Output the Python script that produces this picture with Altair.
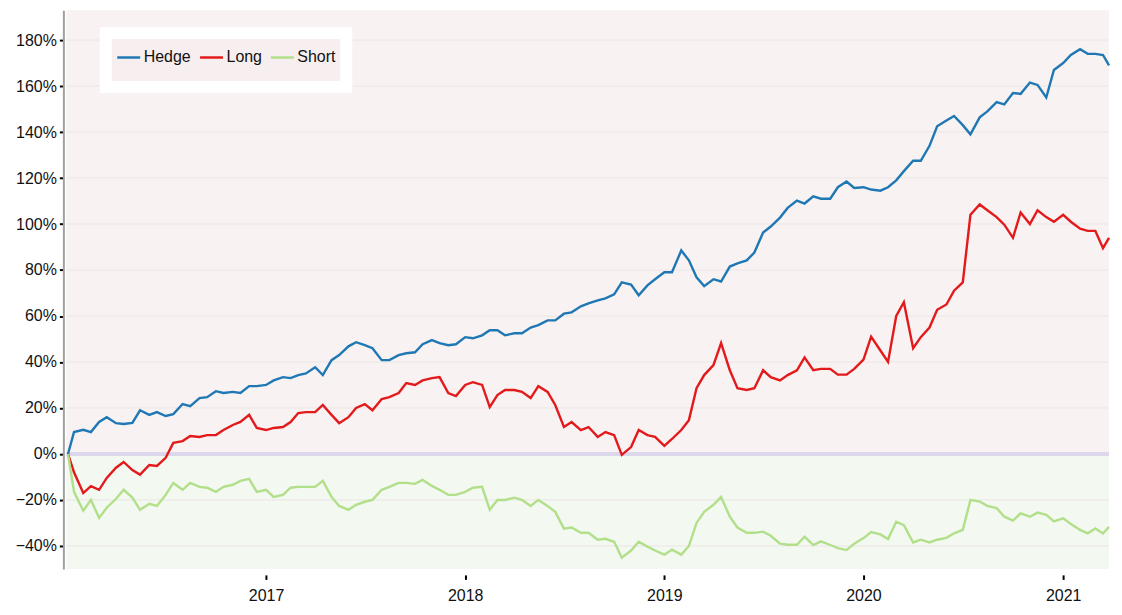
import altair as alt
import pandas as pd

# ---- data (percent cumulative returns), semi-monthly samples ----
dates = (["2016-01-04"]
         + [d.strftime("%Y-%m-%d") for d in pd.date_range("2016-01-15", "2021-03-15", freq="SMS")]
         + ["2021-03-26"])

hedge = (
    [0, 9.5, 10.5, 9.5, 13.9, 16, 13.4, 13, 13.5, 19, 17, 18.2, 16.5, 17.3, 21.7, 20.8, 24.3, 24.7, 27.3, 26.5, 27, 26.5, 29.5, 29.5]
    + [30, 32, 33.4, 33, 34.3, 35, 37.7, 34.3, 40.8, 43, 46.8, 48.6, 47.3, 46, 40.8, 40.8, 43, 43.8, 44.2, 47.7, 49.5, 48.2, 47.3, 47.7]
    + [50.8, 50.3, 51.6, 53.8, 53.8, 51.6, 52.5, 52.5, 55, 56, 58.1, 58.1, 61, 61.6, 64.2, 65.5, 66.8, 67.7, 69.4, 74.6, 73.7, 69, 73.3, 76]
    + [79, 79, 88.5, 84.2, 76.8, 73, 76, 75, 81.5, 82.9, 84.2, 87.6, 96.3, 98.9, 102.8, 107, 110.2, 108.9, 112, 111, 111, 116, 118.5, 115.7]
    + [116, 115, 114.5, 116, 119, 123, 127.5, 127.5, 134, 142.5, 145, 147, 143, 139, 146.4, 149, 153, 152, 157, 156.6, 161.5, 160.5, 155, 167]
    + [170, 173.5, 176, 174, 174, 173.5, 169]
)
long_ = (
    [0, -8, -17, -14, -15.6, -10.4, -6, -3.5, -7, -9, -4.8, -5.2, -1.7, 4.8, 5.6, 7.8, 7.4, 8.2, 8.2, 10.4, 12.6, 13.9, 17, 11.3]
    + [10.4, 11.3, 11.7, 13.9, 17.8, 18.2, 18.2, 21.3, 17, 13.4, 16, 20, 21.7, 19, 23.9, 24.7, 26.5, 30.8, 30, 32, 33, 33.4, 26.5, 25.2]
    + [30, 31.2, 30, 20.4, 25.6, 27.8, 27.8, 27, 24.3, 29.5, 27, 21.3, 11.7, 13.9, 10.4, 11.7, 7.4, 9.5, 8.2, -0.4, 3, 10.4, 8.2, 7.4]
    + [3.5, 6.5, 10.4, 14.7, 28.6, 34.3, 38.6, 48.2, 36.4, 28.6, 27.8, 28.6, 36.4, 33.4, 32, 34.3, 36.4, 42, 36.4, 37, 37, 34.5, 34.5, 37]
    + [41, 51, 45, 40, 60, 66, 46, 50.8, 55, 62.7, 65, 71, 74.6, 104, 108.5, 106, 103, 99.7, 94, 105, 100, 106, 103, 101]
    + [104, 101, 98, 97, 97, 89.5, 94]
)
short = (
    [0, -16.5, -24.7, -20, -27.8, -23.4, -19.5, -15.6, -19, -24.3, -21.7, -22.6, -17.8, -12.6, -15.6, -12.6, -14.3, -14.7, -16.5, -14.3, -13.4, -11.7, -10.8, -16.5]
    + [-15.6, -18.7, -17.8, -14.7, -14.3, -14.3, -14.3, -11.7, -18.7, -22.6, -24.3, -22.1, -20.8, -20, -15.6, -14.3, -12.6, -12.6, -13, -11.3, -13.9, -15.6, -17.8, -17.8]
    + [-16.5, -14.7, -14.3, -24.3, -20, -20, -19, -20, -22.6, -20, -22.6, -25.2, -32.5, -32, -34.3, -34.3, -37.3, -36.9, -38.2, -45.1, -42, -38.2, -40.3, -42]
    + [-43.8, -41.6, -43.8, -40, -30, -25.2, -22.1, -18.7, -27.3, -32, -34.3, -34.3, -33.8, -35.6, -39, -39.5, -39.5, -36, -39.6, -38, -39.6, -41, -41.8, -39]
    + [-36.6, -34, -35, -37, -29.5, -31, -38.5, -37.3, -38.5, -37.3, -36.5, -34.5, -33, -20, -20.7, -22.6, -23.5, -27.3, -29, -25.8, -27.3, -25.5, -26.5, -29.3]
    + [-28, -30.5, -33, -34.5, -32.4, -34.6, -31.7]
)

series_names = ["Hedge", "Long", "Short"]
series_colors = ["#1f78b4", "#e31a1c", "#b2df8a"]
y_ticks = [-40, -20, 0, 20, 40, 60, 80, 100, 120, 140, 160, 180]
year_ticks = [2017, 2018, 2019, 2020, 2021]
y_domain = [-50, 193]

rows = []
for name, vals in zip(series_names, [hedge, long_, short]):
    for d, v in zip(dates, vals):
        rows.append({"date": d + "T00:00:00", "series": name, "value": v})
df = pd.DataFrame(rows)

bands = pd.DataFrame({"lo": [0, y_domain[0]], "hi": [y_domain[1], 0], "zone": ["pos", "neg"]})
grid_df = pd.DataFrame({"t": y_ticks})

FONT = "Liberation Sans, Arial"
FS = 16
yscale = alt.Scale(domain=y_domain, nice=False, zero=False)
xscale = alt.Scale(domain=[alt.DateTime(year=2016, month=1, date=1),
                           alt.DateTime(year=2021, month=3, date=26)], nice=False)

yaxis = alt.Axis(values=y_ticks, labelExpr="format(datum.value, 'd') + '%'",
                 domain=True, domainColor="#a0a0a0", domainWidth=2,
                 ticks=True, tickColor="#000000", tickWidth=2, tickSize=4,
                 offset=3, labelPadding=3, grid=False, title=None,
                 labelFontSize=FS, labelColor="#111111", labelFont=FONT)
xaxis = alt.Axis(values=[alt.DateTime(year=y, month=1, date=1) for y in year_ticks],
                 format="%Y", domain=False, ticks=True, tickColor="#000000",
                 tickWidth=2, tickSize=4.5, offset=6, labelPadding=8, grid=False,
                 title=None, labelFontSize=FS, labelColor="#111111", labelFont=FONT)

band_pos = alt.Chart(bands[bands.zone == "pos"]).mark_rect(color="#f9f2f2").encode(
    y=alt.Y("lo:Q", scale=yscale, axis=yaxis), y2="hi:Q")
band_neg = alt.Chart(bands[bands.zone == "neg"]).mark_rect(color="#f3f8f1").encode(
    y=alt.Y("lo:Q", scale=yscale, axis=yaxis), y2="hi:Q")

grid = alt.Chart(grid_df).mark_rule(color="#ebe5e5", strokeWidth=1).encode(
    y=alt.Y("t:Q", scale=yscale, axis=yaxis))

zero = alt.Chart(grid_df).mark_rule(color="#dcd7ea", strokeWidth=2.5).encode(
    y=alt.datum(0, scale=yscale, axis=yaxis))

# legend symbol: a short horizontal line from the left edge of the symbol box,
# plus invisible zero-length segments that give the entry its full height
legend_symbol = "M-1,0L0.84,0M-1,-1.13L-1,-1.13M-1,1.13L-1,1.13"

lines = alt.Chart(df).mark_line(strokeWidth=2.4).encode(
    x=alt.X("date:T", scale=xscale, axis=xaxis),
    y=alt.Y("value:Q", scale=yscale, axis=yaxis),
    color=alt.Color("series:N",
                    scale=alt.Scale(domain=series_names, range=series_colors),
                    legend=alt.Legend(title=None, orient="none", direction="horizontal",
                                      legendX=39.5, legendY=23,
                                      fillColor="#f7efef", strokeColor="#ffffff",
                                      padding=10,
                                      symbolType=legend_symbol, symbolSize=625,
                                      symbolStrokeWidth=2.5, labelFontSize=FS,
                                      labelFont=FONT, labelColor="#111111",
                                      labelOffset=0, columnPadding=3)),
)

chart = alt.layer(band_pos, band_neg, grid, zero, lines).properties(
    width=1045, height=560,
    autosize=alt.AutoSizeParams(type="none"),
    padding={"left": 58.5, "top": 1.5, "right": 5, "bottom": 40},
).configure_view(stroke=None).configure_legend(strokeWidth=12)

chart.save("out.html", embed_options={"renderer": "svg", "actions": False})
